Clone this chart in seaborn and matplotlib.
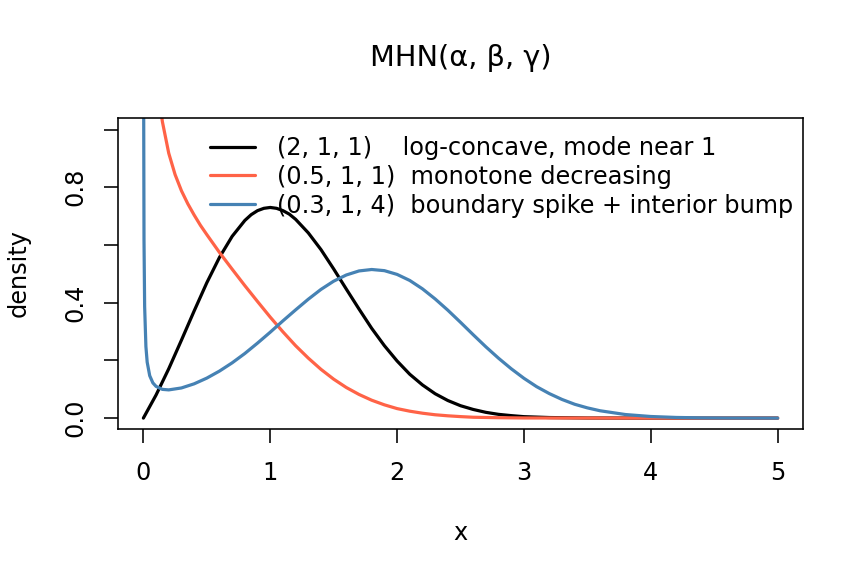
import numpy as np
import pandas as pd
import matplotlib
matplotlib.use("Agg")
import matplotlib.pyplot as plt
import seaborn as sns

# values
x_black = [0.0, 0.1, 0.2, 0.3, 0.4, 0.5, 0.6, 0.7, 0.8, 0.85, 0.9, 0.95, 1.0, 1.05,
           1.1, 1.15, 1.2, 1.3, 1.4, 1.5, 1.6, 1.7, 1.8, 1.9, 2.0, 2.1, 2.2, 2.3,
           2.4, 2.5, 2.6, 2.7, 2.8, 2.9, 3.0, 3.2, 3.5, 4.0, 5.0]
y_black = [0.0, 0.080, 0.171, 0.270, 0.371, 0.469, 0.557, 0.630, 0.685, 0.705, 0.719,
           0.727, 0.730, 0.727, 0.719, 0.707, 0.689, 0.642, 0.584, 0.517, 0.447,
           0.378, 0.311, 0.251, 0.198, 0.152, 0.115, 0.0845, 0.061, 0.043, 0.030,
           0.020, 0.013, 0.0086, 0.005, 0.002, 0.0004, 0.0, 0.0]

x_red = [0.05, 0.1, 0.12, 0.15, 0.2, 0.25, 0.3, 0.35, 0.4, 0.45, 0.5, 0.6, 0.7, 0.8,
         0.9, 1.0, 1.1, 1.2, 1.3, 1.4, 1.5, 1.6, 1.7, 1.8, 1.9, 2.0, 2.1, 2.2, 2.3,
         2.4, 2.5, 2.6, 2.8, 3.0, 4.0, 5.0]
y_red = [1.641, 1.211, 1.123, 1.027, 0.918, 0.844, 0.788, 0.743, 0.704, 0.668, 0.636,
         0.574, 0.516, 0.459, 0.404, 0.350, 0.299, 0.251, 0.208, 0.169, 0.135,
         0.106, 0.082, 0.062, 0.046, 0.033, 0.024, 0.017, 0.0116, 0.008, 0.0052,
         0.003, 0.0014, 0.0005, 0.0, 0.0]

x_blue = [0.001, 0.002, 0.005, 0.01, 0.02, 0.03, 0.05, 0.075, 0.1, 0.15, 0.2, 0.3,
          0.4, 0.5, 0.6, 0.7, 0.8, 0.9, 1.0, 1.1, 1.2, 1.3, 1.4, 1.5, 1.6, 1.7,
          1.8, 1.9, 2.0, 2.1, 2.2, 2.3, 2.4, 2.5, 2.6, 2.7, 2.8, 2.9, 3.0, 3.1,
          3.2, 3.3, 3.4, 3.5, 3.6, 3.8, 4.0, 4.2, 4.4, 4.6, 5.0]
y_blue = [1.86, 1.158, 0.617, 0.387, 0.248, 0.194, 0.147, 0.122, 0.110, 0.0996,
          0.0978, 0.1045, 0.1188, 0.1386, 0.163, 0.1916, 0.224, 0.260, 0.2977,
          0.337, 0.375, 0.412, 0.446, 0.4745, 0.496, 0.510, 0.515, 0.511, 0.498,
          0.477, 0.448, 0.413, 0.374, 0.332, 0.289, 0.247, 0.2075, 0.171, 0.138,
          0.109, 0.085, 0.0647, 0.048, 0.0355, 0.0255, 0.0124, 0.0056, 0.0023,
          0.0009, 0.0003, 0.0]

labels = ["(2, 1, 1)    log-concave, mode near 1",
          "(0.5, 1, 1)  monotone decreasing",
          "(0.3, 1, 4)  boundary spike + interior bump"]
colors = ["black", "tomato", "steelblue"]

df = pd.concat([
    pd.DataFrame({"x": x_black, "density": y_black, "series": labels[0]}),
    pd.DataFrame({"x": x_red, "density": y_red, "series": labels[1]}),
    pd.DataFrame({"x": x_blue, "density": y_blue, "series": labels[2]}),
])

sns.set_style("ticks")
plt.rcParams["font.family"] = ["DejaVu Sans"]
plt.rcParams["text.color"] = "black"
plt.rcParams["axes.labelcolor"] = "black"
plt.rcParams["xtick.color"] = "black"
plt.rcParams["ytick.color"] = "black"

fig = plt.figure(figsize=(6, 4), dpi=144)
ax = fig.add_axes([118 / 864, 1 - 428.5 / 576, 685 / 864, 310.5 / 576])

sns.lineplot(data=df, x="x", y="density", hue="series", palette=colors,
             estimator=None, sort=False, linewidth=1.6, ax=ax)

ax.set_xlim(-0.2, 5.2)
ax.set_ylim(-0.036, 1.04)
ax.set_xticks([0, 1, 2, 3, 4, 5])
ax.set_yticks([0.0, 0.2, 0.4, 0.6, 0.8, 1.0])
ax.set_yticklabels(["0.0", "", "0.4", "", "0.8", ""], rotation=90, va="center")
ax.tick_params(length=7, width=0.8, labelsize=12, color="black", labelcolor="black")
ax.tick_params(axis="x", pad=9.5)
ax.tick_params(axis="y", pad=8.5)
for s in ax.spines.values():
    s.set_visible(True)
    s.set_linewidth(0.8)
    s.set_color("black")

ax.set_xlabel("x", fontsize=12, labelpad=18)
ax.set_ylabel("density", fontsize=12, labelpad=16)
fig.suptitle("MHN(α, β, γ)", fontsize=14.4, x=(118 + 803) / 2 / 864,
             y=1 - 58 / 576, va="center")

ax.legend(loc="upper left", bbox_to_anchor=(0.134, 0.942), frameon=False,
          fontsize=12, handlelength=1.875, labelspacing=0.2, handletextpad=0.92,
          borderaxespad=0, borderpad=0)

fig.savefig("out.png", dpi=144)
